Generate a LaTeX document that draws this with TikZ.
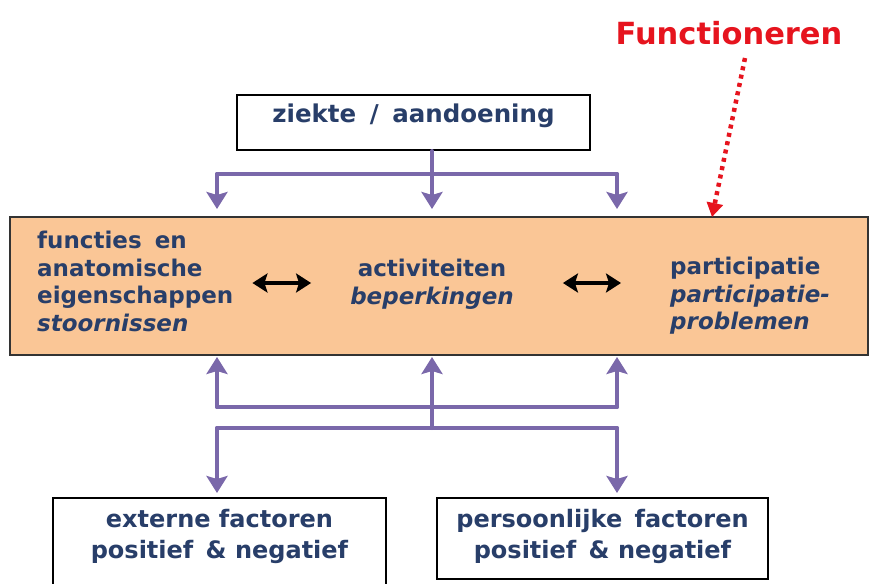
\documentclass[tikz,border=0pt]{standalone}
\usepackage{fontspec}
\setmainfont{DejaVu Sans}
\usetikzlibrary{arrows.meta}

\definecolor{navy}{RGB}{40,62,105}
\definecolor{band}{RGB}{250,198,150}
\definecolor{violet}{RGB}{122,104,170}
\definecolor{signal}{RGB}{230,20,30}

\tikzset{
  lbl/.style={inner sep=0pt, text=navy, font=\bfseries\fontsize{23}{27.5}\selectfont},
  boxlbl/.style={inner sep=0pt, text=navy, align=center, font=\bfseries\fontsize{24}{31}\selectfont},
  frame/.style={draw=black, line width=2pt, fill=white, inner sep=0pt},
  pline/.style={draw=violet, line width=4pt, line cap=round, line join=round},
  parrow/.style={pline, -{Stealth[length=17pt,width=21pt,inset=3pt]}},
  dblarrow/.style={draw=black, line width=3.6pt, {Stealth[length=15pt,width=19pt,inset=3pt]}-{Stealth[length=15pt,width=19pt,inset=3pt]}}
}

\begin{document}
\begin{tikzpicture}[x=1pt,y=-1pt]
\useasboundingbox (0,0) rectangle (869,583);

% title and pointer
\node[inner sep=0pt, text=signal, font=\bfseries\fontsize{30.5}{36}\selectfont] (func) at (729,33) {Functioneren};
\coordinate (fstart) at (745,58);

% top box
\node[frame, minimum width=353pt, text height=27pt, text depth=28pt, text=navy,
      font=\bfseries\fontsize{24.5}{28}\selectfont] (ziekte) at (413.5,122.5) {ziekte\hspace{5pt} /\hspace{5pt} aandoening};

% functioning band
\node[draw=black!80, line width=2pt, fill=band, minimum width=858pt, minimum height=138pt, inner sep=0pt] (band) at (439,286) {};

\node[lbl, anchor=west, align=left] (body) at (37,281.5)
  {functies\hspace{5pt} en\\anatomische\\eigenschappen\\\itshape stoornissen};
\node[lbl, align=center] (activ) at (432,284) {activiteiten\\\itshape beperkingen};
\node[lbl, anchor=west, align=left] (partic) at (670,296)
  {participatie\\\itshape participatie-\\\itshape problemen};

\draw[dblarrow, shorten <=19pt, shorten >=39pt] (body.east |- 0,283) -- (activ.west |- 0,283);
\draw[dblarrow, shorten <=49pt, shorten >=49pt] (activ.east |- 0,283) -- (partic.west |- 0,283);

\draw[signal, line width=4.5pt, dash pattern=on 4pt off 4.5pt,
      -{Triangle[length=14pt,width=16pt]}] (fstart) -- (712,217);

% bottom boxes
\node[frame, minimum width=333pt, minimum height=100pt] (extbox) at (219.5,548) {};
\node[boxlbl] (extlbl) at (219.5,536.5) {externe factoren\\positief\hspace{4pt} \& negatief};
\node[frame, minimum width=331pt, minimum height=81pt] (persbox) at (602.5,538.5) {};
\node[boxlbl] (perslbl) at (602.5,536.5) {persoonlijke\hspace{4pt} factoren\\positief\hspace{4pt} \& negatief};

% junctions of the connectors
\coordinate (tl) at (217,174);
\coordinate (tm) at (432,174);
\coordinate (tr) at (617,174);
\coordinate (ul) at (217,407);
\coordinate (ur) at (617,407);
\coordinate (bl) at (217,428);
\coordinate (bm) at (432,428);
\coordinate (br) at (617,428);

% from the condition to the band
\draw[pline] (tl) -- (tr);
\draw[parrow, shorten >=7pt] (ziekte.south -| tm) -- (tm |- band.north);
\draw[parrow, shorten >=7pt] (tl) -- (tl |- band.north);
\draw[parrow, shorten >=7pt] (tr) -- (tr |- band.north);

% from the context factors to the band
\draw[pline] (ul) -- (ur);
\draw[parrow, shorten >=1pt] (ul) -- (ul |- band.south);
\draw[parrow, shorten >=1pt] (ur) -- (ur |- band.south);
\draw[pline] (bl) -- (br);
\draw[parrow, shorten >=1pt] (bm) -- (bm |- band.south);
\draw[parrow, shorten >=4pt] (bl) -- (bl |- extbox.north);
\draw[parrow, shorten >=4pt] (br) -- (br |- persbox.north);
\end{tikzpicture}
\end{document}
